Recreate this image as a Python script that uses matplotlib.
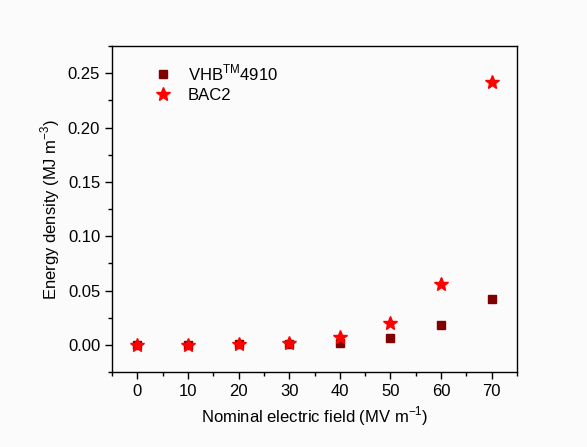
import numpy as np
import matplotlib.pyplot as plt

plt.rcParams['font.family'] = ['Liberation Sans', 'DejaVu Sans']

# data
field = [0, 10, 20, 30, 40, 50, 60, 70]
vhb_energy = [0.0, 0.0002, 0.0004, 0.0008, 0.0015, 0.0067, 0.0184, 0.042]
bac2_energy = [0.0, 0.0003, 0.0006, 0.0015, 0.007, 0.020, 0.0558, 0.242]

fig = plt.figure(figsize=(5.87, 4.47), dpi=100)
fig.patch.set_facecolor('#fbfbfb')
ax = fig.add_axes([0.1908, 0.1678, 0.69, 0.7292])
ax.set_facecolor('#fbfbfb')

ax.plot(field, vhb_energy, linestyle='none', marker='s', markersize=6,
        color='#800000', label=r'VHB$^{\mathregular{TM}}$4910')
ax.plot(field, bac2_energy, linestyle='none', marker='*', markersize=10.5,
        color='#ff0000', label='BAC2')

ax.set_xlim(-5, 75)
ax.set_ylim(-0.025, 0.275)
ax.set_xticks(np.arange(0, 71, 10))
ax.set_xticks(np.arange(-5, 76, 5), minor=True)
ax.set_yticks([0.00, 0.05, 0.10, 0.15, 0.20, 0.25])
ax.set_yticks(np.arange(-0.025, 0.276, 0.025), minor=True)
ax.yaxis.set_major_formatter(plt.FormatStrFormatter('%.2f'))

ax.tick_params(which='both', direction='out', top=False, right=False,
               labelsize=12, width=1)
ax.tick_params(which='major', length=5)
ax.tick_params(which='minor', length=3)
for s in ax.spines.values():
    s.set_linewidth(1)

ax.set_xlabel(r'Nominal electric field (MV m$^{\mathregular{-1}}$)', fontsize=12)
ax.set_ylabel(r'Energy density (MJ m$^{\mathregular{-3}}$)', fontsize=12)

ax.legend(loc='upper left', frameon=False, fontsize=12, handletextpad=0.5,
          borderaxespad=0.6, labelspacing=0.3, bbox_to_anchor=(0.043, 1.0))

fig.savefig('out.png', dpi=100, facecolor=fig.get_facecolor())
